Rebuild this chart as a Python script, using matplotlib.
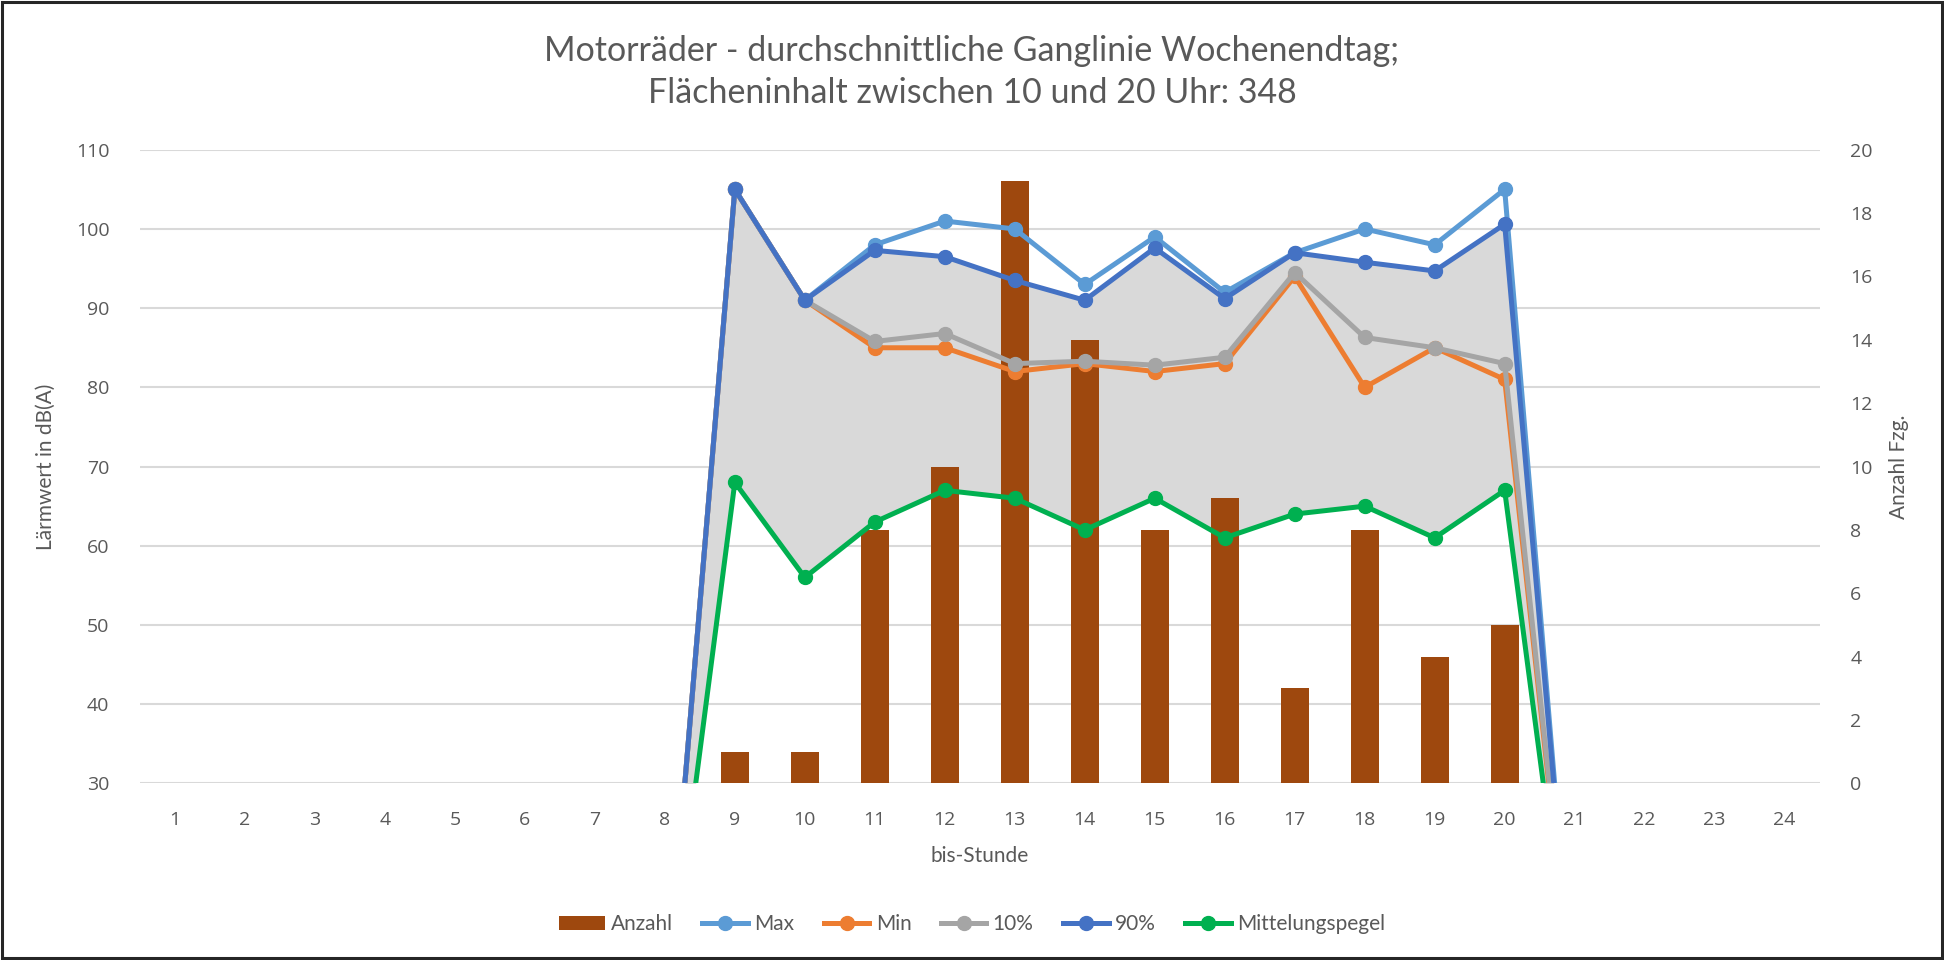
# Motorräder - Ganglinie Wochenendtag, Nachbau des Excel-Diagramms

import numpy as np
import matplotlib
matplotlib.use('Agg')
import matplotlib.pyplot as plt
from matplotlib.patches import Rectangle

nan = np.nan

# Stunden 1..24
stunden = list(range(1, 25))

# Anzahl Fahrzeuge je Stunde
anzahl = [0, 0, 0, 0, 0, 0, 0, 0, 1, 1, 8, 10, 19, 14, 8, 9, 3, 8, 4, 5, 0, 0, 0, 0]

# Pegelwerte in dB(A); Stunde 8 und 21 = 0, Rest leer
pegel_max = [nan] * 7 + [0, 105, 91, 98, 101, 100, 93, 99, 92, 97, 100, 98, 105, 0] + [nan] * 3
pegel_min = [nan] * 7 + [0, 105, 91, 85, 85, 82, 83, 82, 83, 94, 80, 85, 81, 0] + [nan] * 3
pegel_10 = [nan] * 7 + [0, 105, 91, 85.8, 86.8, 83, 83.3, 82.8, 83.8, 94.5, 86.3, 85, 83, 0] + [nan] * 3
pegel_90 = [nan] * 7 + [0, 105, 91, 97.3, 96.5, 93.5, 91, 97.6, 91.2, 97, 95.8, 94.7, 100.6, 0] + [nan] * 3
mittelung = [nan] * 7 + [0, 68, 56, 63, 67, 66, 62, 66, 61, 64, 65, 61, 67, 0] + [nan] * 3

titel = 'Motorräder - durchschnittliche Ganglinie Wochenendtag;\nFlächeninhalt zwischen 10 und 20 Uhr: 348'

textfarbe = '#595959'
plt.rcParams['font.family'] = ['Lato', 'DejaVu Sans']

fig = plt.figure(figsize=(19.44, 9.6), dpi=100)
fig.patch.set_facecolor('white')

# Rahmen um das ganze Diagramm
fig.patches.append(Rectangle((0.001, 0.002), 0.998, 0.996, transform=fig.transFigure,
                             fill=False, edgecolor='#262626', linewidth=2.2))

ax = fig.add_axes([0.072, 0.184, 0.864, 0.660])
ax2 = ax.twinx()   # Balken (rechte Achse)
ax3 = ax.twinx()   # Linien (über den Balken)

x = np.array(stunden)

# graue Fläche zwischen Mittelungspegel und 90%
ax.fill_between(x, mittelung, pegel_90, color='#D9D9D9', linewidth=0, zorder=2)
ax.set_axisbelow(True)
ax.yaxis.grid(True, color='#D9D9D9', linewidth=1.5)
ax.set_ylim(30, 110)
ax.set_yticks(range(30, 111, 10))
ax.set_xlim(0.5, 24.5)
ax.set_xticks(stunden)

# Balken
ax2.bar(x, anzahl, width=0.4, color='#9E480E', label='Anzahl', zorder=3)
ax2.set_ylim(0, 20)
ax2.set_yticks(range(0, 21, 2))

# Linien
ax3.set_ylim(30, 110)
farben = ['#5B9BD5', '#ED7D31', '#A5A5A5', '#4472C4', '#00B050']
namen = ['Max', 'Min', '10%', '90%', 'Mittelungspegel']
reihen = [pegel_max, pegel_min, pegel_10, pegel_90, mittelung]
for werte, farbe, name in zip(reihen, farben, namen):
    ax3.plot(x, werte, '-o', color=farbe, linewidth=3.6, markersize=10, label=name)
ax3.axis('off')

for a in (ax, ax2, ax3):
    for s in a.spines.values():
        s.set_visible(False)

ax.tick_params(axis='both', length=0, labelsize=14, labelcolor=textfarbe)
ax.tick_params(axis='y', pad=22)
ax.tick_params(axis='x', pad=20)
ax2.tick_params(axis='y', length=0, labelsize=14, labelcolor=textfarbe, pad=22)
for lab in ax.get_xticklabels() + ax.get_yticklabels() + ax2.get_yticklabels():
    lab.set_fontfamily('Open Sans')

ax.set_ylabel('Lärmwert in dB(A)', fontsize=15, color=textfarbe, labelpad=14)
ax2.set_ylabel('Anzahl Fzg.', fontsize=15, color=textfarbe, labelpad=12)
ax.set_xlabel('bis-Stunde', fontsize=15, color=textfarbe, labelpad=12)

fig.text(0.5, 0.925, titel, ha='center', va='center', fontsize=24.5,
         color=textfarbe, linespacing=1.35)

h2, l2 = ax2.get_legend_handles_labels()
h3, l3 = ax3.get_legend_handles_labels()
fig.legend(h2 + h3, l2 + l3, loc='center', bbox_to_anchor=(0.5, 0.037), ncol=6,
           frameon=False, fontsize=15, labelcolor=textfarbe, handlelength=2.2,
           handletextpad=0.3, columnspacing=1.4)

fig.savefig('out.png', dpi=100)
